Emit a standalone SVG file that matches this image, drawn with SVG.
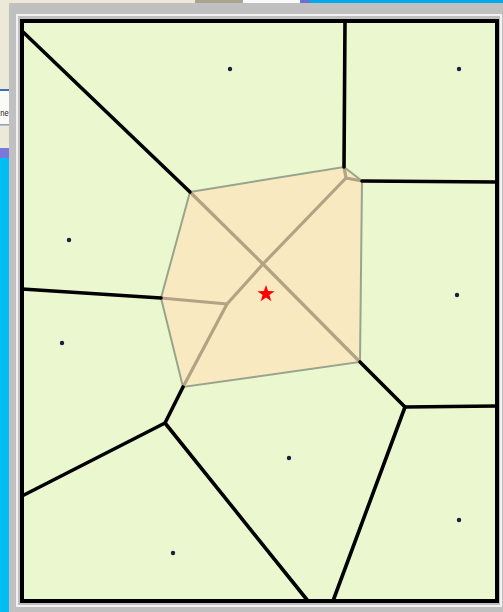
<svg xmlns="http://www.w3.org/2000/svg" width="503" height="612" viewBox="0 0 503 612">
<defs>
<style>
.edge{stroke:#000;stroke-width:3.6;fill:none;stroke-linecap:round;stroke-linejoin:round}
.inner{stroke:#B3A283;stroke-width:3.2;fill:none;stroke-linecap:round;stroke-linejoin:round}
.site{fill:#1c1c44}
</style>
</defs>
<!-- background screenshot chrome -->
<rect x="0" y="0" width="503" height="612" fill="#C0C0C0"/>
<rect x="0" y="0" width="9" height="612" fill="#00BEF2"/>
<rect x="0" y="0" width="9" height="150" fill="#ECE9D8"/>
<rect x="0" y="148" width="9" height="10" fill="#7A78D8"/>
<rect x="0" y="91" width="9" height="34" fill="#FAFAF7"/>
<rect x="0" y="89" width="9" height="2" fill="#3C6EB4"/>
<rect x="0" y="124" width="9" height="1.5" fill="#8AA0C0"/>
<text x="0.3" y="116" font-family="Liberation Sans, Arial, sans-serif" font-size="9" textLength="8.4" lengthAdjust="spacingAndGlyphs" fill="#222">ne</text>
<rect x="0" y="0" width="503" height="3" fill="#ECE9D8"/>
<rect x="195" y="0" width="48" height="3" fill="#A8A490"/>
<rect x="243" y="0" width="57" height="3" fill="#FAFAFA"/>
<rect x="300" y="0" width="10" height="3" fill="#6A70D8"/>
<rect x="310" y="0" width="193" height="3" fill="#00A8EC"/>
<rect x="9" y="3" width="494" height="609" fill="#C0C0C0"/>
<rect x="17" y="15" width="484" height="591" fill="none" stroke="#F2F2F2" stroke-width="2"/>
<!-- plot area -->
<rect x="22" y="21" width="475" height="580" fill="#EBF8CF"/>
<g id="highlight">
<polygon points="190,192 344,167 362,181 360,362 183,387 161,298" fill="#F8E9C0" stroke="#98A58C" stroke-width="2"/>
</g>
<g id="connectors">
<polyline class="inner" points="190,192 263,264 360,362"/>
<polyline class="inner" points="346,178 263,264 227,304 183,387"/>
<polyline class="inner" points="161,298 227,304"/>
<polyline class="inner" points="344,167 346,178 362,181"/>
<line class="edge" x1="22" y1="31" x2="190" y2="192"/>
<line class="edge" x1="345" y1="21" x2="344" y2="167"/>
<line class="edge" x1="362" y1="181" x2="497" y2="182"/>
<polyline class="edge" points="360,362 405,407 497,406"/>
<line class="edge" x1="405" y1="407" x2="333" y2="601"/>
<polyline class="edge" points="183,387 165,423 308,601"/>
<line class="edge" x1="165" y1="423" x2="22" y2="496"/>
<line class="edge" x1="161" y1="298" x2="22" y2="289"/>
</g>
<g id="sites">
<circle class="site" cx="230" cy="69" r="2.2"/>
<circle class="site" cx="459" cy="69" r="2.2"/>
<circle class="site" cx="69" cy="240" r="2.2"/>
<circle class="site" cx="457" cy="295" r="2.2"/>
<circle class="site" cx="62" cy="343" r="2.2"/>
<circle class="site" cx="289" cy="458" r="2.2"/>
<circle class="site" cx="459" cy="520" r="2.2"/>
<circle class="site" cx="173" cy="553" r="2.2"/>
</g>
<g id="query">
<polygon points="266,285 268.1,291.1 274.6,291.2 269.4,295.1 271.3,301.3 266,297.6 260.7,301.3 262.6,295.1 257.4,291.2 263.9,291.1" fill="#FF0000"/>
</g>
<rect x="22" y="21" width="475" height="580" fill="none" stroke="#000" stroke-width="4"/>
</svg>
